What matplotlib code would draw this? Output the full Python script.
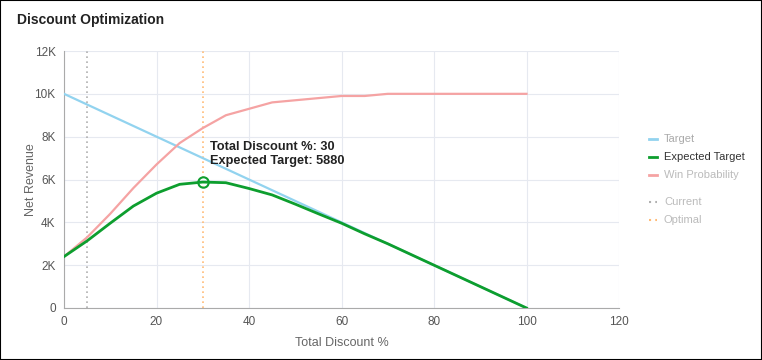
import matplotlib
matplotlib.use("Agg")
import matplotlib.pyplot as plt
from matplotlib.lines import Line2D
from matplotlib.patches import Rectangle

plt.rcParams['font.family'] = ['Liberation Sans', 'DejaVu Sans']

# data
discount = [0, 5, 10, 15, 20, 25, 30, 35, 40, 45, 50, 55, 60, 65, 70, 75, 80, 85, 90, 95, 100]
target = [10000, 9500, 9000, 8500, 8000, 7500, 7000, 6500, 6000, 5500, 5000,
          4500, 4000, 3500, 3000, 2500, 2000, 1500, 1000, 500, 0]
expected_target = [2400, 3135, 3960, 4760, 5360, 5775, 5880, 5850, 5580, 5280, 4850,
                   4400, 3960, 3465, 3000, 2500, 2000, 1500, 1000, 500, 0]
win_probability = [2400, 3300, 4400, 5600, 6700, 7700, 8400, 9000, 9300, 9600, 9700,
                   9800, 9900, 9900, 10000, 10000, 10000, 10000, 10000, 10000, 10000]
current_discount = 5
optimal_discount = 30
optimal_value = 5880

x_ticks = [0, 20, 40, 60, 80, 100, 120]
y_ticks = [0, 2000, 4000, 6000, 8000, 10000, 12000]

c_target = '#92d3ef'
c_expected = '#0d9e2e'
c_win = '#f5a3a3'
c_current = '#b0b0b0'
c_optimal = '#ffbb77'

W, H = 762, 360
fig = plt.figure(figsize=(W / 100, H / 100), dpi=100)
ax = fig.add_axes([64 / W, 1 - 308 / H, 555 / W, 257 / H])

ax.plot(discount, target, color=c_target, lw=1.6, zorder=3)
ax.plot(discount, win_probability, color=c_win, lw=1.6, zorder=3)
ax.plot(discount, expected_target, color=c_expected, lw=2.0, zorder=4)
ax.axvline(current_discount, color=c_current, lw=1.2, ls=(0, (1, 2)), zorder=2)
ax.axvline(optimal_discount, color=c_optimal, lw=1.2, ls=(0, (1, 2)), zorder=2)
ax.plot([optimal_discount], [optimal_value], 'o', ms=7.5, mfc='none', mec=c_expected,
        mew=1.5, zorder=5)
ax.text(31.6, 7780, f"Total Discount %: {optimal_discount}\nExpected Target: {optimal_value}",
        fontsize=9.2, fontweight='bold', color='#222222', va='top', ha='left',
        linespacing=1.2, zorder=6)

ax.set_xlim(0, 120)
ax.set_ylim(0, 12000)
ax.set_xticks(x_ticks)
ax.set_yticks(y_ticks)
ax.set_yticklabels(['0' if v == 0 else f'{v // 1000}K' for v in y_ticks])
ax.tick_params(length=0, labelsize=8.5, colors='#555555', pad=6)
ax.grid(True, color='#e6e9f0', lw=0.8)
ax.set_axisbelow(True)
for s in ['top', 'right']:
    ax.spines[s].set_visible(False)
for s in ['left', 'bottom']:
    ax.spines[s].set_color('#aaaaaa')
ax.set_xlabel('Total Discount %', fontsize=9, color='#666666', labelpad=6)
ax.set_ylabel('Net Revenue', fontsize=9, color='#666666', labelpad=-2)

fig.text(17 / W, 1 - 20 / H, 'Discount Optimization', fontsize=10, fontweight='bold',
         color='#222222', va='center', ha='left')

# legend on the right
legend_items = [
    ('Target', c_target, '-', 139, '#aaaaaa'),
    ('Expected Target', c_expected, '-', 157, '#333333'),
    ('Win Probability', c_win, '-', 175, '#bbbbbb'),
    ('Current', c_current, ':', 202, '#bbbbbb'),
    ('Optimal', c_optimal, ':', 220, '#bbbbbb'),
]
for label, col, ls, yp, tc in legend_items:
    fig.add_artist(Line2D([649 / W, 657 / W], [1 - yp / H, 1 - yp / H], color=col,
                          lw=2 if ls == '-' else 1.5, ls=ls if ls == '-' else (0, (1, 2))))
    fig.text(664 / W, 1 - yp / H, label, fontsize=8, color=tc, va='center', ha='left')

fig.add_artist(Rectangle((0, 0), 1, 1, transform=fig.transFigure, fill=False,
                         ec='black', lw=1.5))

fig.savefig('out.png', dpi=100)
